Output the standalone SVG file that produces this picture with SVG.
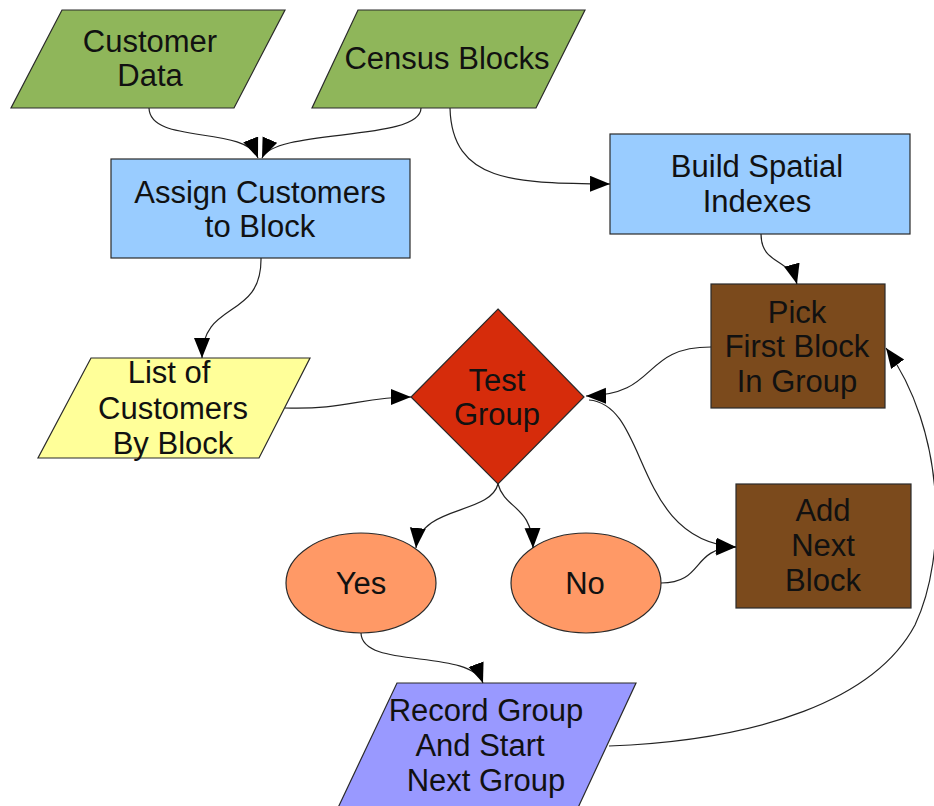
<svg xmlns="http://www.w3.org/2000/svg" width="934" height="806" viewBox="0 0 934 806">
<defs>
<marker id="arr" markerUnits="userSpaceOnUse" markerWidth="22" markerHeight="18" refX="20" refY="8" orient="auto">
<path d="M0,0 L20,8 L0,16 z" fill="#000"/>
</marker>
<style>
.s{stroke:#2a2a2a;stroke-width:1.2}
.t{font-family:"Liberation Sans",Arial,sans-serif;font-size:31px;fill:#111;text-anchor:middle}
.c{fill:none;stroke:#222;stroke-width:1.2;marker-end:url(#arr)}
</style>
</defs>
<rect width="934" height="806" fill="#fff"/>
<g id="customer-data">
<polygon class="s" points="62,10 285,10 234,108 11,108" fill="#8fb65a"/>
<text class="t" x="150" y="52">Customer</text>
<text class="t" x="150" y="86">Data</text>
</g>
<g id="census-blocks">
<polygon class="s" points="358,10 585,10 536,108 312,108" fill="#8fb65a"/>
<text class="t" x="447" y="69">Census Blocks</text>
</g>
<g id="assign">
<rect class="s" x="111" y="159" width="299" height="99" fill="#99ccff"/>
<text class="t" x="260" y="203">Assign Customers</text>
<text class="t" x="260" y="237">to Block</text>
</g>
<g id="build">
<rect class="s" x="610" y="134" width="300" height="100" fill="#99ccff"/>
<text class="t" x="757" y="177">Build Spatial</text>
<text class="t" x="757" y="212">Indexes</text>
</g>
<g id="pick">
<rect class="s" x="711" y="284" width="174" height="124" fill="#7b4a1c"/>
<text class="t" x="797" y="323">Pick</text>
<text class="t" x="797" y="357">First Block</text>
<text class="t" x="797" y="392">In Group</text>
</g>
<g id="list">
<polygon class="s" points="91,358 310,358 259,458 38,458" fill="#ffff99"/>
<text class="t" x="169" y="383">List of</text>
<text class="t" x="173" y="419">Customers</text>
<text class="t" x="173" y="454">By Block</text>
</g>
<g id="test">
<polygon class="s" points="498,309 584,397 498,484 411,397" fill="#d62c0b"/>
<text class="t" x="497" y="391">Test</text>
<text class="t" x="497" y="425">Group</text>
</g>
<g id="yes">
<ellipse class="s" cx="361" cy="583" rx="75" ry="50" fill="#ff9966"/>
<text class="t" x="361" y="594">Yes</text>
</g>
<g id="no">
<ellipse class="s" cx="586" cy="583" rx="75" ry="50" fill="#ff9966"/>
<text class="t" x="585" y="594">No</text>
</g>
<g id="add">
<rect class="s" x="736" y="484" width="175" height="124" fill="#7b4a1c"/>
<text class="t" x="823" y="521">Add</text>
<text class="t" x="823" y="556">Next</text>
<text class="t" x="823" y="591">Block</text>
</g>
<g id="record">
<polygon class="s" points="397,683 636,683 576,812 336,812" fill="#9999ff"/>
<text class="t" x="486" y="721">Record Group</text>
<text class="t" x="480" y="756">And Start</text>
<text class="t" x="486" y="791">Next Group</text>
</g>
<g id="connectors">
<path class="c" d="M149,108 C150,145 245,125 258,158"/>
<path class="c" d="M421,108 C421,142 275,128 262,158"/>
<path class="c" d="M450,108 C452,185 520,183 610,184"/>
<path class="c" d="M761,234 C761,265 790,258 797,284"/>
<path class="c" d="M261,258 C262,320 202,300 202,358"/>
<path class="c" d="M285,408 C345,410 362,397 411,397"/>
<path class="c" d="M711,347 C640,347 660,395 586,396"/>
<path class="c" d="M589,400 C650,405 632,540 736,547"/>
<path class="c" d="M661,583 C705,583 690,548 736,547"/>
<path class="c" d="M498,484 C490,515 420,505 416,548"/>
<path class="c" d="M498,484 C505,510 532,505 533,548"/>
<path class="c" d="M361,633 C362,670 470,648 483,683"/>
<path class="c" d="M609,746 C760,740 875,700 915,625 C948,555 945,430 886,348"/>
</g>
</svg>
